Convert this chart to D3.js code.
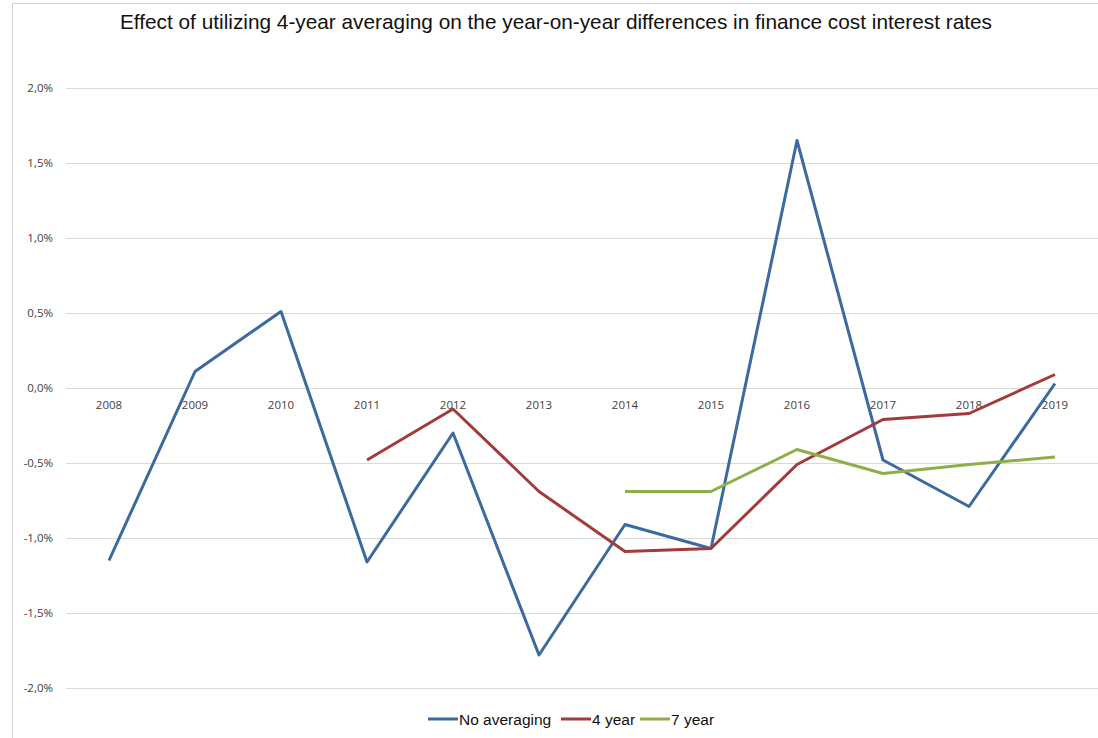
<!DOCTYPE html>
<html>
<head>
<meta charset="utf-8">
<script src="https://cdn.jsdelivr.net/npm/d3@7"></script>
<style>
	body { margin: 0; background: #fff; }
	.c-svg { width: 1098px; height: 738px; }
</style>
</head>
<body>
<div class="c-svg"></div>
<script>
//DATA
//-------------------------------------------------------------------------

const years = ["2008", "2009", "2010", "2011", "2012", "2013", "2014", "2015", "2016", "2017", "2018", "2019"];
const noAveraging = [-1.15, 0.11, 0.51, -1.16, -0.30, -1.78, -0.91, -1.07, 1.65, -0.48, -0.79, 0.03];
const fourYear = [null, null, null, -0.48, -0.14, -0.69, -1.09, -1.07, -0.51, -0.21, -0.17, 0.09];
const sevenYear = [null, null, null, null, null, null, -0.69, -0.69, -0.41, -0.57, -0.51, -0.46];
const yTicks = [2.0, 1.5, 1.0, 0.5, 0.0, -0.5, -1.0, -1.5, -2.0];

const series = [
	{ name: "No averaging", values: noAveraging, color: "#3c6a9e" },
	{ name: "4 year", values: fourYear, color: "#a23b3b" },
	{ name: "7 year", values: sevenYear, color: "#8fae48" }
];

//INITIALISATION
//-------------------------------------------------------------------------

const opts = {
	width: 1098,
	height: 738,
	margin: { top: 88, right: 0, bottom: 50, left: 66 }
};

const innerChart = {
	width: opts.width - opts.margin.left - opts.margin.right,
	height: opts.height - opts.margin.top - opts.margin.bottom
};

const svg = d3.select(".c-svg")
	.append("svg")
	.attr("width", opts.width)
	.attr("height", opts.height);

//frame
svg.append("path")
	.attr("d", `M12.5 ${opts.height} V3.5 H${opts.width}`)
	.attr("fill", "none")
	.attr("stroke", "#d0d0d0");

svg.append("text")
	.attr("x", 556)
	.attr("y", 29)
	.attr("text-anchor", "middle")
	.attr("font-family", "Liberation Sans, Arial, sans-serif")
	.attr("font-size", "20.8px")
	.attr("fill", "#111")
	.text("Effect of utilizing 4-year averaging on the year-on-year differences in finance cost interest rates");

const g = svg.append("g")
	.attr("transform", `translate(${opts.margin.left} ${opts.margin.top})`);

//SCALES
//-------------------------------------------------------------------------

const x = d3.scaleBand()
	.domain(years)
	.range([0, innerChart.width]);

const y = d3.scaleLinear()
	.domain([-2, 2])
	.range([600, 0]);

const fmt = (d) => d.toFixed(1).replace(".", ",") + "%";

//grid + y labels
const yAxis = d3.axisLeft(y)
	.tickValues(yTicks)
	.tickSize(-innerChart.width)
	.tickPadding(13)
	.tickFormat(fmt);

g.append("g")
	.attr("class", "axis y_axis")
	.call(yAxis)
	.call((s) => s.select(".domain").remove())
	.call((s) => s.selectAll(".tick line").attr("stroke", "#d9d9d9").attr("stroke-width", 1.2))
	.call((s) => s.selectAll(".tick text")
		.attr("font-family", "Open Sans, DejaVu Sans, sans-serif")
		.attr("font-size", "11.5px")
		.attr("fill", "#404040"));

//x labels below zero line
const xAxis = d3.axisBottom(x)
	.tickSize(0)
	.tickPadding(13);

g.append("g")
	.attr("class", "axis x_axis")
	.attr("transform", `translate(0 ${y(0)})`)
	.call(xAxis)
	.call((s) => s.select(".domain").remove())
	.call((s) => s.selectAll(".tick text")
		.attr("font-family", "Open Sans, DejaVu Sans, sans-serif")
		.attr("font-size", "11.5px")
		.attr("fill", "#404040"));

//LINES
//-------------------------------------------------------------------------

const line = d3.line()
	.defined((d) => d != null)
	.x((d, i) => x(years[i]) + x.bandwidth() / 2)
	.y((d) => y(d));

series.forEach((s) => {
	g.append("path")
		.datum(s.values)
		.attr("fill", "none")
		.attr("stroke", s.color)
		.attr("stroke-width", 3)
		.attr("stroke-linejoin", "round")
		.attr("d", line);
});

//LEGEND
//-------------------------------------------------------------------------

const legendX = [428, 561, 640];
const legend = svg.append("g").attr("transform", "translate(0 719)");

series.forEach((s, i) => {
	legend.append("line")
		.attr("x1", legendX[i])
		.attr("x2", legendX[i] + 30)
		.attr("y1", 0)
		.attr("y2", 0)
		.attr("stroke", s.color)
		.attr("stroke-width", 3);
	legend.append("text")
		.attr("x", legendX[i] + 31)
		.attr("y", 5.5)
		.attr("font-family", "Liberation Sans, Arial, sans-serif")
		.attr("font-size", "15.5px")
		.attr("fill", "#111")
		.text(s.name);
});
</script>
</body>
</html>
